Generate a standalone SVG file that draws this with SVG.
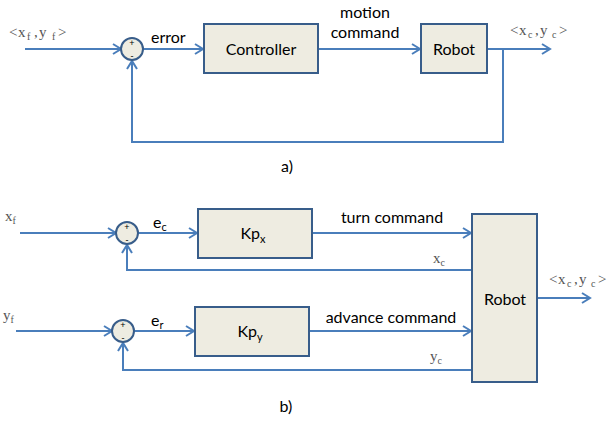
<svg xmlns="http://www.w3.org/2000/svg" width="607" height="426" viewBox="0 0 607 426">
<style>
.ln{fill:none;stroke:#4A7EBB;stroke-width:2}
.bx{fill:#EEECE1;stroke:#385D8A;stroke-width:2}
.t{font-family:Lato,"Open Sans","Liberation Sans",sans-serif;font-size:16px;fill:#000}
.m{font-family:"Liberation Serif","DejaVu Serif",serif;font-size:15px;fill:#555}
.s{font-size:10px}
.ts{font-size:11px}
.pm{font-family:"Liberation Sans",sans-serif;font-size:9px;fill:#000}
</style>
<defs>
<marker id="ar" markerWidth="12" markerHeight="12" viewBox="0 0 12 12" refX="10" refY="6" orient="auto" markerUnits="userSpaceOnUse">
<path d="M2,1 L10,6 L2,11" fill="none" stroke="#4A7EBB" stroke-width="2"/>
</marker>
</defs>
<g id="connectors">
<path class="ln" d="M25,49 H121" marker-end="url(#ar)"/>
<path class="ln" d="M143,49 H203" marker-end="url(#ar)"/>
<path class="ln" d="M318,49 H420" marker-end="url(#ar)"/>
<path class="ln" d="M487,49 H550" marker-end="url(#ar)"/>
<path class="ln" d="M503,49 V142 H132 V61" marker-end="url(#ar)"/>
<path class="ln" d="M20,233 H116" marker-end="url(#ar)"/>
<path class="ln" d="M138,233 H197" marker-end="url(#ar)"/>
<path class="ln" d="M312,233 H471" marker-end="url(#ar)"/>
<path class="ln" d="M472,270 H127 V245" marker-end="url(#ar)"/>
<path class="ln" d="M16,331 H112" marker-end="url(#ar)"/>
<path class="ln" d="M134,331 H194" marker-end="url(#ar)"/>
<path class="ln" d="M309,331 H471" marker-end="url(#ar)"/>
<path class="ln" d="M472,370 H123 V343" marker-end="url(#ar)"/>
<path class="ln" d="M537,298 H590" marker-end="url(#ar)"/>
</g>
<g id="sum1">
<circle class="bx" cx="132" cy="49" r="11"/>
<text class="pm" x="132" y="46" text-anchor="middle">+</text>
<text class="pm" x="132" y="59" text-anchor="middle">-</text>
</g>
<g id="controller">
<rect class="bx" x="204" y="24" width="114" height="49"/>
<text class="t" x="261" y="55" text-anchor="middle">Controller</text>
</g>
<g id="robot1">
<rect class="bx" x="421" y="24" width="66" height="49"/>
<text class="t" x="454" y="55" text-anchor="middle">Robot</text>
</g>
<g id="labels-a">
<text class="m" y="37"><tspan x="9">&lt;</tspan><tspan x="18">x</tspan><tspan class="s" x="27" dy="3">f</tspan><tspan x="34" dy="-3">,</tspan><tspan x="39">y</tspan><tspan class="s" x="52" dy="3">f</tspan><tspan x="58" dy="-3">&gt;</tspan></text>
<text class="t" x="151" y="43">error</text>
<text class="t" x="365" y="18" text-anchor="middle">motion</text>
<text class="t" x="365" y="38" text-anchor="middle">command</text>
<text class="m" y="35"><tspan x="510">&lt;</tspan><tspan x="519">x</tspan><tspan class="s" x="528" dy="3">c</tspan><tspan x="535" dy="-3">,</tspan><tspan x="540">y</tspan><tspan class="s" x="552" dy="3">c</tspan><tspan x="559" dy="-3">&gt;</tspan></text>
<text class="t" x="287" y="172" text-anchor="middle">a)</text>
</g>
<g id="sum2">
<circle class="bx" cx="127" cy="233" r="11"/>
<text class="pm" x="127" y="230" text-anchor="middle">+</text>
<text class="pm" x="127" y="243" text-anchor="middle">-</text>
</g>
<g id="kpx">
<rect class="bx" x="198" y="209" width="114" height="49"/>
<text class="t" x="253" y="239" text-anchor="middle">Kp<tspan class="ts" dy="4">x</tspan></text>
</g>
<g id="sum3">
<circle class="bx" cx="123" cy="331" r="11"/>
<text class="pm" x="123" y="328" text-anchor="middle">+</text>
<text class="pm" x="123" y="341" text-anchor="middle">-</text>
</g>
<g id="kpy">
<rect class="bx" x="195" y="307" width="114" height="49"/>
<text class="t" x="250" y="337" text-anchor="middle">Kp<tspan class="ts" dy="4">y</tspan></text>
</g>
<g id="robot2">
<rect class="bx" x="472" y="214" width="65" height="168"/>
<text class="t" x="505" y="305" text-anchor="middle">Robot</text>
</g>
<g id="labels-b">
<text class="m" x="5" y="221">x<tspan class="s" dy="3">f</tspan></text>
<text class="t" x="153" y="228">e<tspan class="ts" dy="3">c</tspan></text>
<text class="t" x="392" y="223" text-anchor="middle">turn command</text>
<text class="m" x="433" y="263">x<tspan class="s" dy="3">c</tspan></text>
<text class="m" x="3" y="320">y<tspan class="s" dy="3">f</tspan></text>
<text class="t" x="151" y="326">e<tspan class="ts" dy="3">r</tspan></text>
<text class="t" x="391" y="323" text-anchor="middle">advance command</text>
<text class="m" x="430" y="361">y<tspan class="s" dy="3">c</tspan></text>
<text class="m" y="284"><tspan x="549">&lt;</tspan><tspan x="558">x</tspan><tspan class="s" x="567" dy="3">c</tspan><tspan x="574" dy="-3">,</tspan><tspan x="579">y</tspan><tspan class="s" x="591" dy="3">c</tspan><tspan x="598" dy="-3">&gt;</tspan></text>
<text class="t" x="286" y="412" text-anchor="middle">b)</text>
</g>
</svg>
